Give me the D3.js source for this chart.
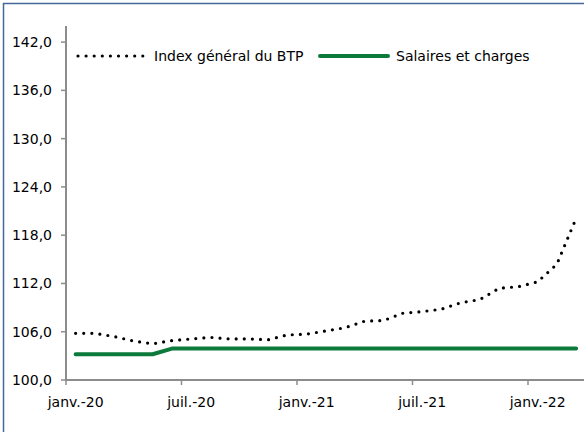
<!DOCTYPE html>
<html><head><meta charset="utf-8">
<script src="https://cdn.jsdelivr.net/npm/d3@7"></script>
<style>html,body{margin:0;padding:0;background:#fff;}svg{display:block;}</style>
</head><body>
<svg id="chart" width="584" height="432"></svg>
<script>
const months = ["2020-01","2020-02","2020-03","2020-04","2020-05","2020-06","2020-07","2020-08","2020-09","2020-10","2020-11","2020-12",
"2021-01","2021-02","2021-03","2021-04","2021-05","2021-06","2021-07","2021-08","2021-09","2021-10","2021-11","2021-12",
"2022-01","2022-02","2022-03"];
const indexBTP = [105.8,105.8,105.4,104.85,104.5,104.9,105.1,105.3,105.1,105.1,105.0,105.6,
105.7,106.1,106.5,107.3,107.4,108.3,108.5,108.8,109.6,110.0,111.4,111.6,
112.2,114.4,120.1];
const salaires = [103.2,103.2,103.2,103.2,103.2,103.9,103.9,103.9,103.9,103.9,103.9,103.9,
103.9,103.9,103.9,103.9,103.9,103.9,103.9,103.9,103.9,103.9,103.9,103.9,
103.9,103.9,103.9];
const yTicks = [100,106,112,118,124,130,136,142];
const xTickMonths = ["2020-01","2020-07","2021-01","2021-07","2022-01"];
const xTickLabels = ["janv.-20","juil.-20","janv.-21","juil.-21","janv.-22"];
const seriesNames = ["Index général du BTP","Salaires et charges"];

(function(){
const svg = d3.select("#chart");
const font = "DejaVu Sans, sans-serif";
const mLeft = 66, mBottom = 380, mTop = 26;
const x = d3.scaleBand().domain(months).range([mLeft, mLeft + 27*19.25]).padding(0);
const y = d3.scaleLinear().domain([100,144]).range([mBottom, mTop]);

// chart border
svg.append("rect").attr("x",3.5).attr("y",3.5).attr("width",600).attr("height",440)
  .attr("fill","none").attr("stroke","#44689a").attr("stroke-width",1.5);

const axisColor = "#8c8c8c";
// y axis
svg.append("line").attr("x1",mLeft).attr("x2",mLeft).attr("y1",mTop).attr("y2",mBottom+1)
  .attr("stroke",axisColor).attr("stroke-width",2);
yTicks.forEach(t=>{
  svg.append("line").attr("x1",mLeft-5).attr("x2",mLeft).attr("y1",y(t)).attr("y2",y(t))
    .attr("stroke",axisColor).attr("stroke-width",1.5);
  svg.append("text").attr("x",52).attr("y",y(t)+5).attr("text-anchor","end")
    .attr("font-family",font).attr("font-size",14).attr("fill","#000")
    .text(d3.format(".1f")(t).replace(".",","));
});
// x axis
svg.append("line").attr("x1",mLeft-1).attr("x2",584).attr("y1",mBottom).attr("y2",mBottom)
  .attr("stroke",axisColor).attr("stroke-width",2);
xTickMonths.forEach((m,i)=>{
  svg.append("line").attr("x1",x(m)).attr("x2",x(m)).attr("y1",mBottom).attr("y2",mBottom+5)
    .attr("stroke",axisColor).attr("stroke-width",1.5);
  svg.append("text").attr("x",x(m)+x.bandwidth()/2).attr("y",407).attr("text-anchor","middle")
    .attr("font-family",font).attr("font-size",14).attr("fill","#000").text(xTickLabels[i]);
});

const line = d3.line().x((d,i)=>x(months[i])+x.bandwidth()/2).y(d=>y(d));
const green = "#0b7a3b";
svg.append("path").datum(salaires).attr("d",line).attr("fill","none")
  .attr("stroke",green).attr("stroke-width",4).attr("stroke-linecap","round").attr("stroke-linejoin","round");
svg.append("path").datum(indexBTP).attr("d",line).attr("fill","none")
  .attr("stroke","#000").attr("stroke-width",3.2).attr("stroke-dasharray","0 8.1").attr("stroke-linecap","round");

// legend
svg.append("line").attr("x1",78).attr("x2",144).attr("y1",56).attr("y2",56)
  .attr("stroke","#000").attr("stroke-width",3.2).attr("stroke-dasharray","0 8.1").attr("stroke-linecap","round");
svg.append("text").attr("x",154).attr("y",61).attr("font-family",font).attr("font-size",14).text(seriesNames[0]);
svg.append("line").attr("x1",320).attr("x2",388).attr("y1",56).attr("y2",56)
  .attr("stroke",green).attr("stroke-width",4).attr("stroke-linecap","round");
svg.append("text").attr("x",396).attr("y",61).attr("font-family",font).attr("font-size",14).text(seriesNames[1]);
})();
</script>
</body></html>
